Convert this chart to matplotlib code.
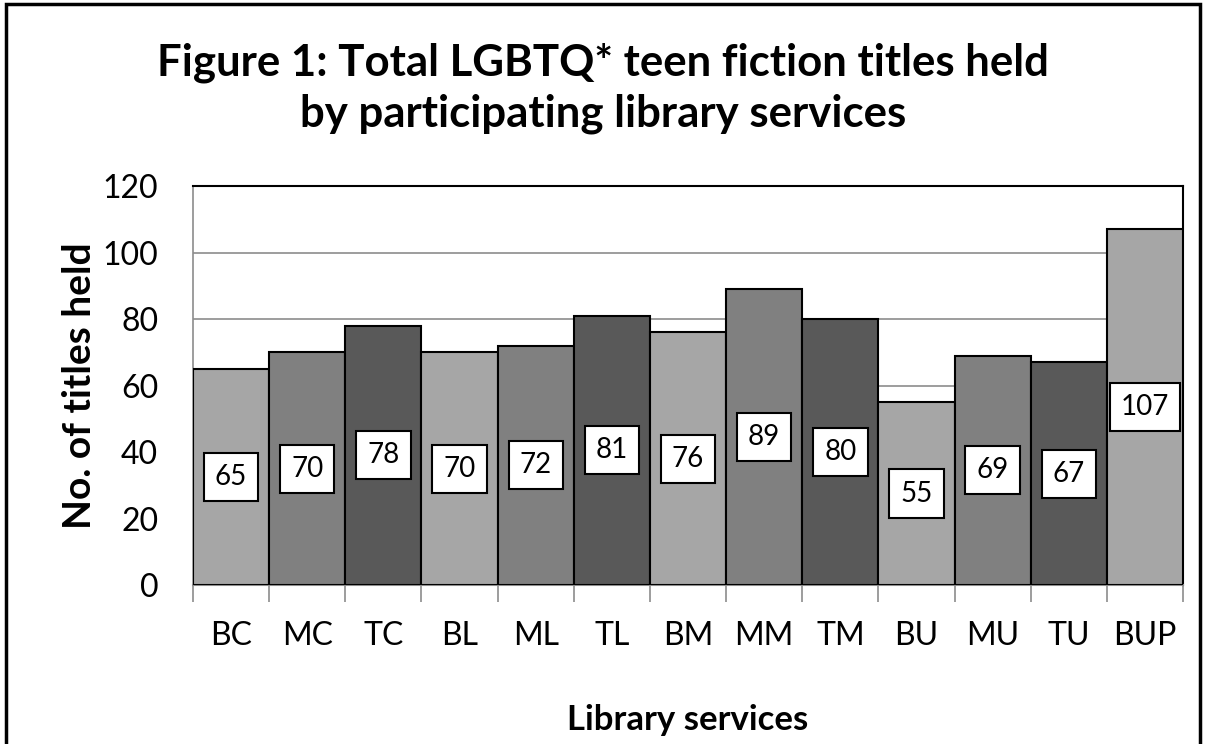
import numpy as np
import matplotlib.pyplot as plt
from matplotlib.patches import Rectangle

plt.rcParams['font.family'] = ['Lato', 'DejaVu Sans']

# data
services = ['BC', 'MC', 'TC', 'BL', 'ML', 'TL', 'BM', 'MM', 'TM', 'BU', 'MU', 'TU', 'BUP']
titles = [65, 70, 78, 70, 72, 81, 76, 89, 80, 55, 69, 67, 107]
shades = ['#a6a6a6', '#808080', '#595959']

fig = plt.figure(figsize=(12.06, 7.44), dpi=100)
ax = fig.add_axes([0.160, 0.2137, 0.821, 0.5363])

x = np.arange(len(services))
cols = [shades[i % 3] for i in range(len(services))]
ax.bar(x, titles, width=1.0, color=cols, edgecolor='black', linewidth=1.5, zorder=3)

for xi, v in zip(x, titles):
    ax.text(xi, v / 2, str(v), ha='center', va='center', fontsize=20, zorder=4,
            bbox=dict(boxstyle='square,pad=0.4', facecolor='white', edgecolor='black', linewidth=1.5))

ax.set_xlim(-0.5, len(services) - 0.5)
ax.set_ylim(0, 120)
ax.set_yticks(range(0, 121, 20))
ax.yaxis.grid(True, color='#8c8c8c', linewidth=1.2, zorder=0)
ax.set_axisbelow(True)

ax.set_xticks(x)
ax.set_xticklabels(services)
ax.set_xticks(np.arange(-0.5, len(services)), minor=True)
ax.tick_params(axis='x', which='major', length=0, labelsize=23, pad=26)
ax.tick_params(axis='x', which='minor', length=12, width=1.2, color='#8c8c8c')
ax.tick_params(axis='y', length=0, labelsize=23, pad=25)

ax.spines['left'].set_color('#8c8c8c')
ax.spines['bottom'].set_color('#8c8c8c')
ax.spines['left'].set_linewidth(1.2)
ax.spines['bottom'].set_linewidth(1.5)
ax.spines['top'].set_linewidth(1.5)
ax.spines['right'].set_linewidth(1.5)

ax.set_ylabel('No. of titles held', fontsize=28, fontweight='bold', labelpad=4)
ax.set_xlabel('Library services', fontsize=25, fontweight='bold', labelpad=38)

fig.text(0.5, 0.899, 'Figure 1: Total LGBTQ* teen fiction titles held',
         ha='center', va='baseline', fontsize=31.5, fontweight='bold')
fig.text(0.5, 0.830, 'by participating library services',
         ha='center', va='baseline', fontsize=31.5, fontweight='bold')

fig.patches.append(Rectangle((0.005, -0.01), 0.99, 1.004, transform=fig.transFigure,
                             fill=False, edgecolor='black', linewidth=2.5))

fig.savefig('out.png', dpi=100)
